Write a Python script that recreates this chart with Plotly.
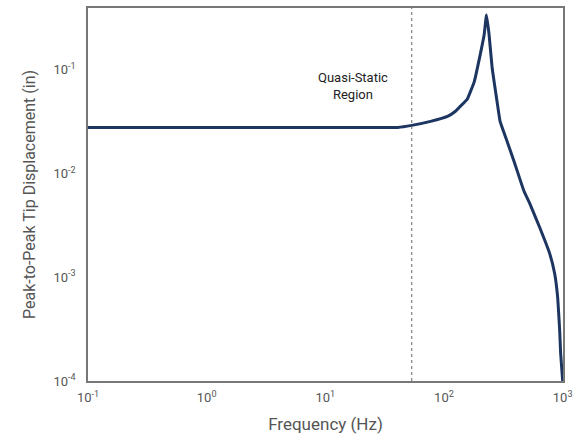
import plotly.graph_objects as go

# frequency (Hz) and peak-to-peak tip displacement (in)
freq = [0.1, 0.3, 1, 3, 10, 30, 40.8, 53.5, 77.1, 107, 125, 137, 157, 180, 202,
        218, 228, 240, 255, 280, 297, 340, 389, 472, 530, 642, 778, 857, 908,
        944, 962, 1000]
disp = [0.0277, 0.0277, 0.0277, 0.0277, 0.0277, 0.0277, 0.0278, 0.0291, 0.0318,
        0.0355, 0.0398, 0.0443, 0.052, 0.0769, 0.140, 0.217, 0.337, 0.217, 0.1026,
        0.0494, 0.0318, 0.0205, 0.01315, 0.00677, 0.00509, 0.0030, 0.00169,
        0.00108, 0.000638, 0.000308, 0.000185, 0.0001]

quasi_static_limit = 53.5

x_ticks = [0.1, 1, 10, 100, 1000]
x_labels = ["10<sup>-1</sup>", "10<sup>0</sup>", "10<sup>1</sup>", "10<sup>2</sup>", "10<sup>3</sup>"]
y_ticks = [1e-4, 1e-3, 1e-2, 1e-1]
y_labels = ["10<sup>-4</sup>", "10<sup>-3</sup>", "10<sup>-2</sup>", "10<sup>-1</sup>"]

FONT = "Roboto, DejaVu Sans, sans-serif"
GREY = "#555555"

fig = go.Figure()
fig.add_trace(go.Scatter(x=freq, y=disp, mode="lines",
                         line=dict(color="#1c3561", width=3, shape="spline", smoothing=0.3),
                         showlegend=False))

fig.add_shape(type="line", xref="x", yref="paper",
              x0=quasi_static_limit, x1=quasi_static_limit, y0=0, y1=1,
              line=dict(color="#666666", width=1, dash="dot"))

fig.add_annotation(x=1.234, y=-1.153, xref="x", yref="y",
                   text="Quasi-Static<br>Region", showarrow=False,
                   font=dict(family=FONT, size=13, color="#222222"))

axis_common = dict(showline=True, linecolor="#777777", linewidth=1.5, mirror=True,
                   showgrid=False, zeroline=False, ticks="",
                   tickfont=dict(family=FONT, size=13, color=GREY))

fig.update_xaxes(type="log", range=[-1, 3.003], tickvals=x_ticks, ticktext=x_labels,
                 title=dict(text="Frequency (Hz)", font=dict(family=FONT, size=17, color=GREY),
                            standoff=14),
                 ticklabelstandoff=4, **axis_common)
fig.update_yaxes(type="log", range=[-4, -0.405], tickvals=y_ticks, ticktext=y_labels,
                 title=dict(text="Peak-to-Peak Tip Displacement (in)",
                            font=dict(family=FONT, size=16, color=GREY), standoff=14),
                 ticklabelstandoff=8, **axis_common)

fig.update_layout(width=579, height=439, autosize=False,
                  margin=dict(l=88, r=13, t=6, b=58),
                  paper_bgcolor="white", plot_bgcolor="white",
                  font=dict(family=FONT))

fig.write_html("out.html", config={"displayModeBar": False},
               post_script="document.body.style.margin='0';")
